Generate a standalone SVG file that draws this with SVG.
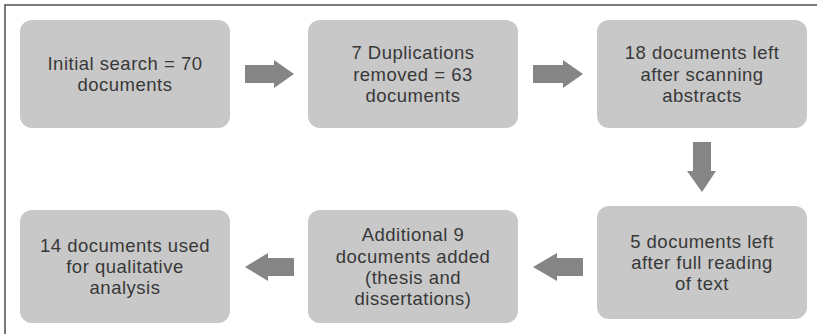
<svg xmlns="http://www.w3.org/2000/svg" width="817" height="334" viewBox="0 0 817 334">
<style>
.box{fill:#c8c8c8;}
.lbl{font-family:"Liberation Sans",Arial,sans-serif;font-size:18.5px;letter-spacing:0.5px;fill:#383838;text-anchor:middle;}
.arr{fill:#858585;}
.frame{stroke:#4d4d4d;stroke-width:1.5;fill:none;}
</style>
<rect width="817" height="334" fill="#ffffff"/>
<path class="frame" d="M5,334 V5 H817"/>
<g id="n1"><rect class="box" x="20" y="20" width="210" height="108" rx="12"/>
<text class="lbl" x="125" y="70">Initial search = 70<tspan x="125" dy="21.2">documents</tspan></text></g>
<g id="n2"><rect class="box" x="308" y="20" width="210" height="108" rx="12"/>
<text class="lbl" x="413" y="59.4">7 Duplications<tspan x="413" dy="21.2">removed = 63</tspan><tspan x="413" dy="21.2">documents</tspan></text></g>
<g id="n3"><rect class="box" x="597" y="20" width="210" height="108" rx="12"/>
<text class="lbl" x="702" y="59.4">18 documents left<tspan x="702" dy="21.2">after scanning</tspan><tspan x="702" dy="21.2">abstracts</tspan></text></g>
<g id="n4"><rect class="box" x="597" y="206" width="210" height="113" rx="12"/>
<text class="lbl" x="702" y="247.9">5 documents left<tspan x="702" dy="21.2">after full reading</tspan><tspan x="702" dy="21.2">of text</tspan></text></g>
<g id="n5"><rect class="box" x="308" y="210" width="210" height="113" rx="12"/>
<text class="lbl" x="413" y="241.3">Additional 9<tspan x="413" dy="21.2">documents added</tspan><tspan x="413" dy="21.2">(thesis and</tspan><tspan x="413" dy="21.2">dissertations)</tspan></text></g>
<g id="n6"><rect class="box" x="20" y="210" width="210" height="113" rx="12"/>
<text class="lbl" x="125" y="251.9">14 documents used<tspan x="125" dy="21.2">for qualitative</tspan><tspan x="125" dy="21.2">analysis</tspan></text></g>
<g id="connectors">
<polygon class="arr" points="245,65 274,65 274,60 294,74 274,88 274,83 245,83"/>
<polygon class="arr" points="533,65 563,65 563,60 583,74 563,88 563,83 533,83"/>
<polygon class="arr" points="693,142 711,142 711,171 716,171 702,192 687,171 693,171"/>
<polygon class="arr" points="583,258 557,258 557,253 533,267 557,281 557,276 583,276"/>
<polygon class="arr" points="294,258 268,258 268,253 245,267 268,281 268,276 294,276"/>
</g>
</svg>
